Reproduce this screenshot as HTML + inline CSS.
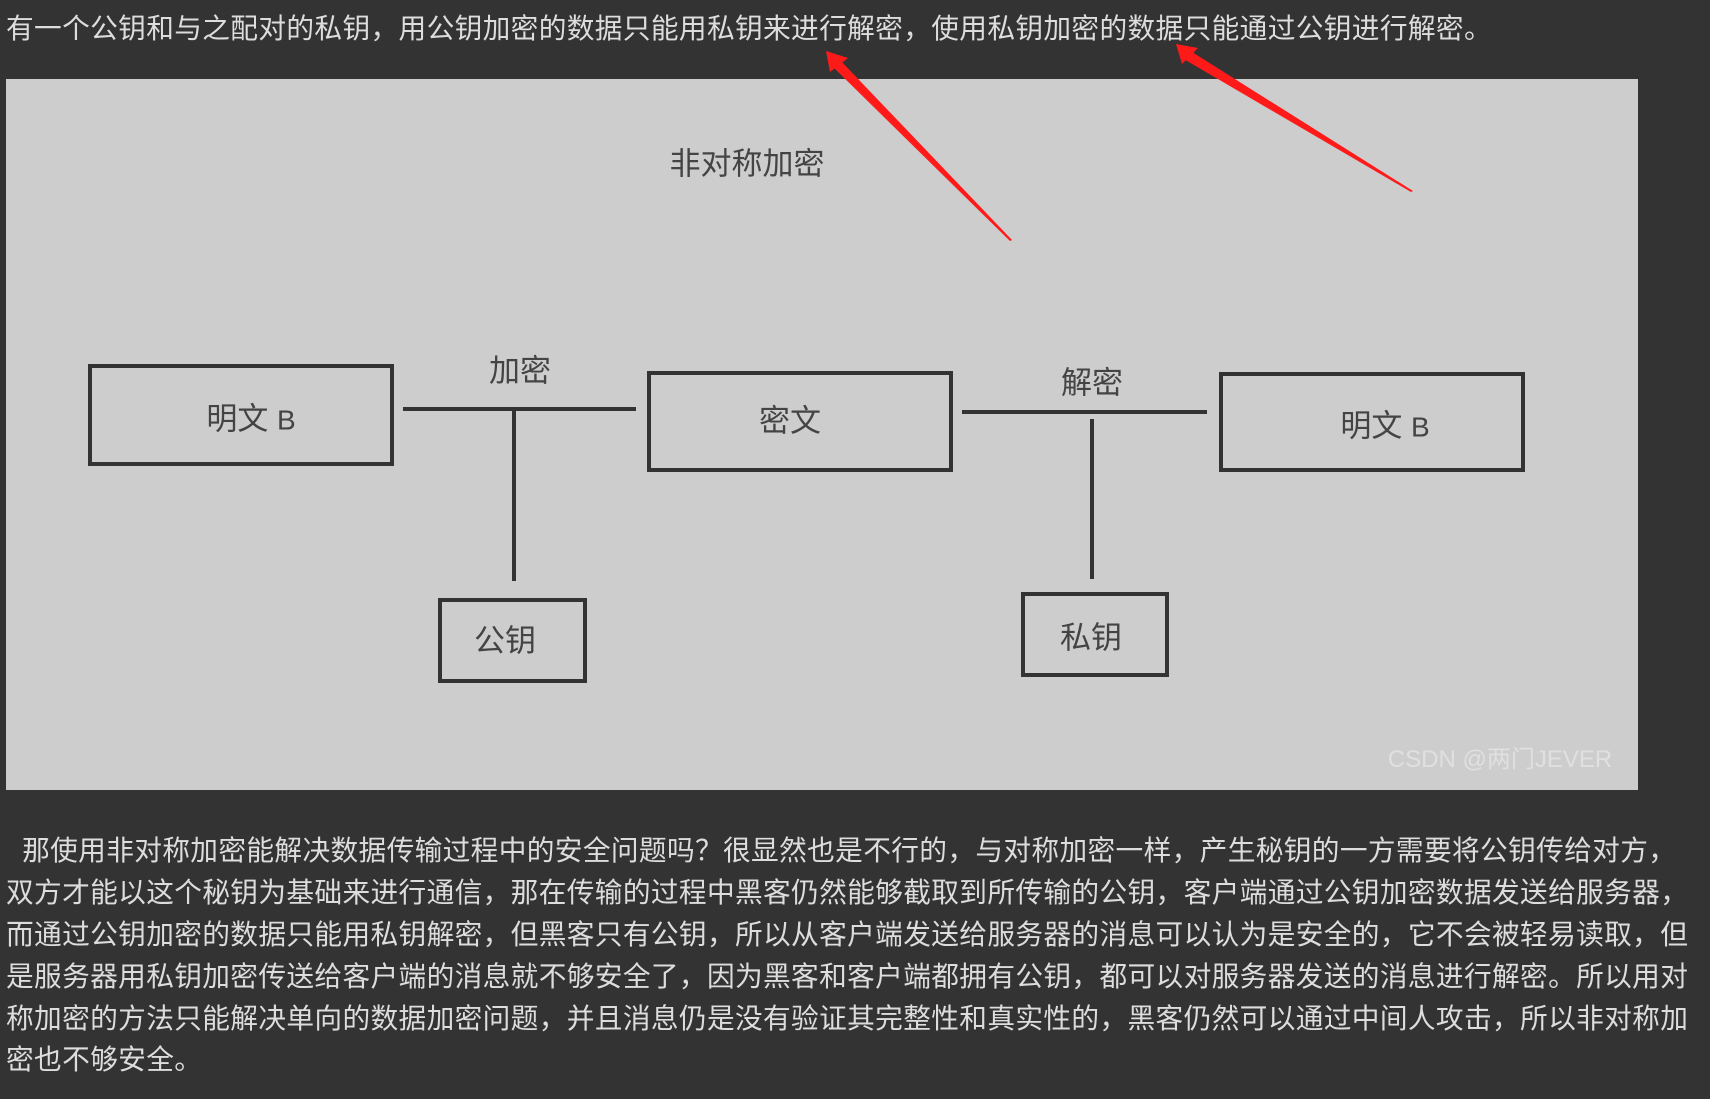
<!DOCTYPE html>
<html><head><meta charset="utf-8"><style>
html,body{margin:0;padding:0;}
body{width:1710px;height:1099px;background:#333;position:relative;overflow:hidden;font-family:"Liberation Sans","Noto Sans CJK SC",sans-serif;}
.t{position:absolute;white-space:nowrap;color:#ddd;font-size:27.7px;line-height:1;letter-spacing:0.35px;}
.panel{position:absolute;left:6px;top:79px;width:1632px;height:711px;background:#cdcdcd;}
.box{position:absolute;border:4px solid #333;box-sizing:border-box;}
.lbl{position:absolute;color:#444;font-size:31px;line-height:1;transform:translate(-50%,-50%);white-space:nowrap;}
.hl{position:absolute;background:#333;}
</style></head><body>
<div class="t" style="left:6px;top:15px;">有一个公钥和与之配对的私钥，用公钥加密的数据只能用私钥来进行解密，使用私钥加密的数据只能通过公钥进行解密。</div>
<div class="panel"></div>
<div class="lbl" style="left:747px;top:164px;">非对称加密</div>
<div class="box" style="left:88px;top:364px;width:306px;height:102px;"></div>
<div class="box" style="left:647px;top:371px;width:306px;height:101px;"></div>
<div class="box" style="left:1219px;top:372px;width:306px;height:100px;"></div>
<div class="box" style="left:438px;top:598px;width:149px;height:85px;"></div>
<div class="box" style="left:1021px;top:592px;width:148px;height:85px;"></div>
<div class="hl" style="left:403px;top:407px;width:233px;height:4px;"></div>
<div class="hl" style="left:512px;top:409px;width:4px;height:172px;"></div>
<div class="hl" style="left:962px;top:410px;width:245px;height:4px;"></div>
<div class="hl" style="left:1090px;top:419px;width:4px;height:160px;"></div>
<div class="lbl" style="left:520px;top:371px;">加密</div>
<div class="lbl" style="left:1092px;top:383px;">解密</div>
<div class="lbl" style="left:251px;top:419px;">明文 <span style="font-family:'Liberation Sans',sans-serif;font-size:28px">B</span></div>
<div class="lbl" style="left:790px;top:421px;">密文</div>
<div class="lbl" style="left:1385px;top:426px;">明文 <span style="font-family:'Liberation Sans',sans-serif;font-size:28px">B</span></div>
<div class="lbl" style="left:505px;top:641px;">公钥</div>
<div class="lbl" style="left:1091px;top:638px;">私钥</div>
<div class="lbl" style="left:1500px;top:760px;color:#e0e0e0;font-size:24px;">CSDN @两门JEVER</div>
<svg style="position:absolute;left:0;top:0" width="1710" height="1099">
<g fill="#ff1a1a">
<polygon points="1012,240 1010,241 832,66 826,51 840,60"/>
<polygon points="826,51 848,58 830,72"/>
<polygon points="1413,191 1411,192 1182,58 1176,44 1192,52"/>
<polygon points="1176,44 1198,48 1182,64"/>
</g>
</svg>
<div class="t" style="left:6px;top:837px;">&nbsp;&nbsp;那使用非对称加密能解决数据传输过程中的安全问题吗？很显然也是不行的，与对称加密一样，产生秘钥的一方需要将公钥传给对方，</div>
<div class="t" style="left:6px;top:879px;">双方才能以这个秘钥为基础来进行通信，那在传输的过程中黑客仍然能够截取到所传输的公钥，客户端通过公钥加密数据发送给服务器，</div>
<div class="t" style="left:6px;top:921px;">而通过公钥加密的数据只能用私钥解密，但黑客只有公钥，所以从客户端发送给服务器的消息可以认为是安全的，它不会被轻易读取，但</div>
<div class="t" style="left:6px;top:963px;">是服务器用私钥加密传送给客户端的消息就不够安全了，因为黑客和客户端都拥有公钥，都可以对服务器发送的消息进行解密。所以用对</div>
<div class="t" style="left:6px;top:1005px;">称加密的方法只能解决单向的数据加密问题，并且消息仍是没有验证其完整性和真实性的，黑客仍然可以通过中间人攻击，所以非对称加</div>
<div class="t" style="left:6px;top:1046px;">密也不够安全。</div>
</body></html>
